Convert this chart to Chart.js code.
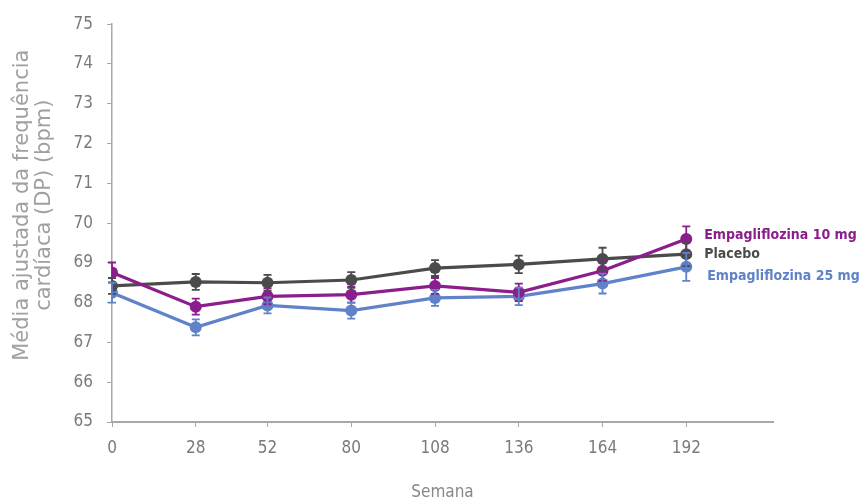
<!DOCTYPE html>
<html>
<head>
<meta charset="utf-8">
<script src="https://cdn.jsdelivr.net/npm/chart.js@4.4.1/dist/chart.umd.min.js"></script>
<style>
  html, body { margin: 0; padding: 0; background: #fff; }
  #wrap { width: 867px; height: 504px; }
</style>
</head>
<body>
<div id="wrap"><canvas id="hrChart" width="867" height="504"></canvas></div>
<script>
// weeks on the x axis (also the tick labels)
const weeks = [0, 28, 52, 80, 108, 136, 164, 192];
const yTicks = [65, 66, 67, 68, 69, 70, 71, 72, 73, 74, 75];

// adjusted mean heart rate (bpm)
const emp10 = [68.76, 67.90, 68.16, 68.20, 68.42, 68.26, 68.80, 69.60];
const placebo = [68.42, 68.52, 68.50, 68.57, 68.87, 68.96, 69.10, 69.22];
const emp25 = [68.25, 67.38, 67.93, 67.80, 68.12, 68.16, 68.48, 68.90];

// error bars (+/-)
const emp10Err = [0.25, 0.2, 0.2, 0.2, 0.2, 0.22, 0.25, 0.32];
const placeboErr = [0.2, 0.2, 0.2, 0.2, 0.2, 0.22, 0.28, 0.3];
const emp25Err = [0.25, 0.2, 0.2, 0.2, 0.2, 0.22, 0.25, 0.35];

const seriesNames = ['Empagliflozina 10 mg', 'Placebo', 'Empagliflozina 25 mg'];
const yTitle = ['Média ajustada da frequência', 'cardíaca (DP) (bpm)'];

const colors = {
  emp10: '#8b1d8c',
  placebo: '#4b4b4b',
  emp25: '#5f82c8',
  axis: '#a8a8a8',
  tick: '#7a7a7a',
};

const thinFont = '"DejaVu Sans Condensed", sans-serif';

function series(values, errs, name, color) {
  return {
    label: name,
    data: weeks.map((w, i) => ({ x: w, y: values[i] })),
    errors: errs,
    borderColor: color,
    backgroundColor: color,
    borderWidth: 3.2,
    pointRadius: 6,
    pointHoverRadius: 6,
    pointBorderWidth: 0,
    tension: 0,
  };
}

// draws the +/- whiskers through the scales
const errorBars = {
  id: 'errorBars',
  afterDatasetsDraw(chart) {
    const ctx = chart.ctx;
    const xs = chart.scales.x, ys = chart.scales.y;
    chart.data.datasets.forEach((ds) => {
      ctx.save();
      ctx.strokeStyle = ds.borderColor;
      ctx.lineWidth = 1.8;
      ds.data.forEach((p, i) => {
        const e = ds.errors[i];
        const x = xs.getPixelForValue(p.x);
        const yTop = ys.getPixelForValue(p.y + e);
        const yBot = ys.getPixelForValue(p.y - e);
        ctx.beginPath();
        ctx.moveTo(x, yTop); ctx.lineTo(x, yBot);
        ctx.moveTo(x - 4, yTop); ctx.lineTo(x + 4, yTop);
        ctx.moveTo(x - 4, yBot); ctx.lineTo(x + 4, yBot);
        ctx.stroke();
      });
      ctx.restore();
    });
  }
};

// series names written next to the last points
const endLabels = {
  id: 'endLabels',
  afterDraw(chart) {
    const ctx = chart.ctx;
    const xs = chart.scales.x, ys = chart.scales.y;
    const shifts = [-4, 0, 10];
    ctx.save();
    ctx.font = 'bold 14px "DejaVu Sans Condensed", sans-serif';
    ctx.textBaseline = 'middle';
    chart.data.datasets.forEach((ds, i) => {
      const last = ds.data[ds.data.length - 1];
      ctx.fillStyle = ds.borderColor;
      ctx.fillText(ds.label, xs.getPixelForValue(last.x) + 18 + (i === 2 ? 3 : 0),
        ys.getPixelForValue(last.y) + shifts[i]);
    });
    ctx.restore();
  }
};

// y axis title, sitting a bit above the middle of the axis like the original
const yAxisTitle = {
  id: 'yAxisTitle',
  afterDraw(chart) {
    const ctx = chart.ctx;
    const area = chart.chartArea;
    ctx.save();
    ctx.translate(23, area.top + 181);
    ctx.rotate(-Math.PI / 2);
    ctx.font = '21px "DejaVu Sans", sans-serif';
    ctx.fillStyle = '#a0a0a0';
    ctx.textAlign = 'center';
    ctx.textBaseline = 'middle';
    yTitle.forEach((line, i) => ctx.fillText(line, 0, i * 22));
    ctx.restore();
  }
};

const tickFont = { family: thinFont, size: 17, weight: '200' };

new Chart(document.getElementById('hrChart'), {
  type: 'line',
  data: {
    datasets: [
      series(emp10, emp10Err, seriesNames[0], colors.emp10),
      series(placebo, placeboErr, seriesNames[1], colors.placebo),
      series(emp25, emp25Err, seriesNames[2], colors.emp25),
    ]
  },
  options: {
    responsive: false,
    animation: false,
    layout: { padding: { top: 20, right: 94, left: 0, bottom: 0 } },
    plugins: {
      legend: { display: false },
      tooltip: { enabled: false },
    },
    scales: {
      x: {
        type: 'linear',
        min: 0,
        max: 221,
        afterBuildTicks: (scale) => { scale.ticks = weeks.map(v => ({ value: v })); },
        afterFit: (scale) => { scale.height = 82; },
        border: { display: true, color: colors.axis, width: 2 },
        grid: { display: true, drawOnChartArea: false, tickLength: 5, color: colors.axis },
        ticks: { color: colors.tick, font: tickFont, padding: 11, maxRotation: 0 },
        title: {
          display: true,
          text: 'Semana',
          color: '#888',
          font: { family: thinFont, size: 17, weight: '200' },
          padding: { top: 0, bottom: 1 },
        },
      },
      y: {
        min: 65,
        max: 75,
        afterBuildTicks: (scale) => { scale.ticks = yTicks.map(v => ({ value: v })); },
        afterFit: (scale) => { scale.width = 112; },
        border: { display: true, color: colors.axis, width: 1.5 },
        grid: { display: true, drawOnChartArea: false, tickLength: 5, color: colors.axis },
        ticks: { color: colors.tick, font: tickFont, padding: 14 },
      },
    },
  },
  plugins: [errorBars, endLabels, yAxisTitle],
});
</script>
</body>
</html>
